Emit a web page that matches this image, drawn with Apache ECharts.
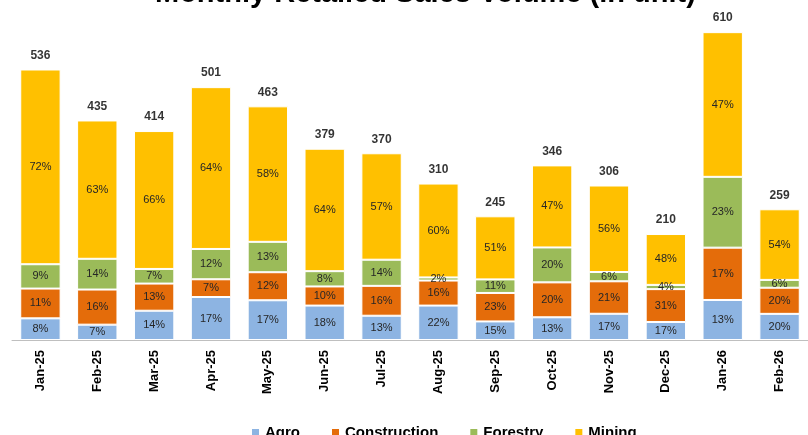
<!DOCTYPE html>
<html>
<head>
<meta charset="utf-8">
<script src="https://cdn.jsdelivr.net/npm/echarts@6/dist/echarts.min.js"></script>
<style>
  html, body { margin: 0; padding: 0; background: #fff; }
  #chart { width: 808px; height: 435px; }
</style>
</head>
<body>
<div id="chart"></div>
<script>
"use strict";

const months = ["Jan-25", "Feb-25", "Mar-25", "Apr-25", "May-25", "Jun-25", "Jul-25",
                "Aug-25", "Sep-25", "Oct-25", "Nov-25", "Dec-25", "Jan-26", "Feb-26"];
const totals          = [536, 435, 414, 501, 463, 379, 370, 310, 245, 346, 306, 210, 610, 259];
const agroPct         = [8, 7, 14, 17, 17, 18, 13, 22, 15, 13, 17, 17, 13, 20];
const constructionPct = [11, 16, 13, 7, 12, 10, 16, 16, 23, 20, 21, 31, 17, 20];
const forestryPct     = [9, 14, 7, 12, 13, 8, 14, 2, 11, 20, 6, 4, 23, 6];
const miningPct       = [72, 63, 66, 64, 58, 64, 57, 60, 51, 47, 56, 48, 47, 54];

const FONT = "'Liberation Sans', Arial, sans-serif";

/* ── 分段系列：值 = 总量 × 占比，标签显示占比 ── */
function segSeries(name, pct, color) {
  return {
    name, type: "bar", stack: "total", barWidth: "71%",
    data: pct.map((p, i) => +(totals[i] * p / 100).toFixed(1)),
    itemStyle: { color, borderColor: "#fff", borderWidth: 1 },
    label: {
      show: true, position: "inside",
      formatter: (p) => pct[p.dataIndex] + "%",
      fontFamily: FONT, fontSize: 11, color: "#262626"
    }
  };
}

const chart = echarts.init(document.getElementById("chart"));

chart.setOption({
  backgroundColor: "#fff",
  animation: false,
  title: {
    text: "Monthly Retailed Sales Volume (in unit)",
    left: 150, top: -26,
    textStyle: { fontFamily: FONT, fontSize: 29, fontWeight: "bold", color: "#000" }
  },
  legend: {
    data: ["Agro", "Construction", "Forestry", "Mining"],
    top: 420, left: 245,
    itemWidth: 9, itemHeight: 9, itemGap: 30, icon: "rect",
    textStyle: { fontFamily: FONT, fontSize: 15, fontWeight: "bold", color: "#000" }
  },
  grid: { top: 17, bottom: 95, left: 12, right: -9 },
  xAxis: {
    type: "category", data: months,
    axisLine: { lineStyle: { color: "#BFBFBF" } },
    axisTick: { lineStyle: { color: "#BFBFBF" }, length: 5 },
    axisLabel: {
      rotate: 90, interval: 0, margin: 10,
      fontFamily: FONT, fontSize: 13, fontWeight: "bold", color: "#000"
    }
  },
  yAxis: { type: "value", min: 0, max: 640, show: false },
  series: [
    segSeries("Agro", agroPct, "#8DB4E2"),
    segSeries("Construction", constructionPct, "#E46C0A"),
    segSeries("Forestry", forestryPct, "#9BBB59"),
    segSeries("Mining", miningPct, "#FFC000"),
    {
      name: "Total", type: "scatter", data: totals, symbolSize: 0,
      label: {
        show: true, position: "top", distance: 8,
        fontFamily: FONT, fontSize: 12, fontWeight: "bold", color: "#000"
      }
    }
  ]
});
</script>
</body>
</html>
